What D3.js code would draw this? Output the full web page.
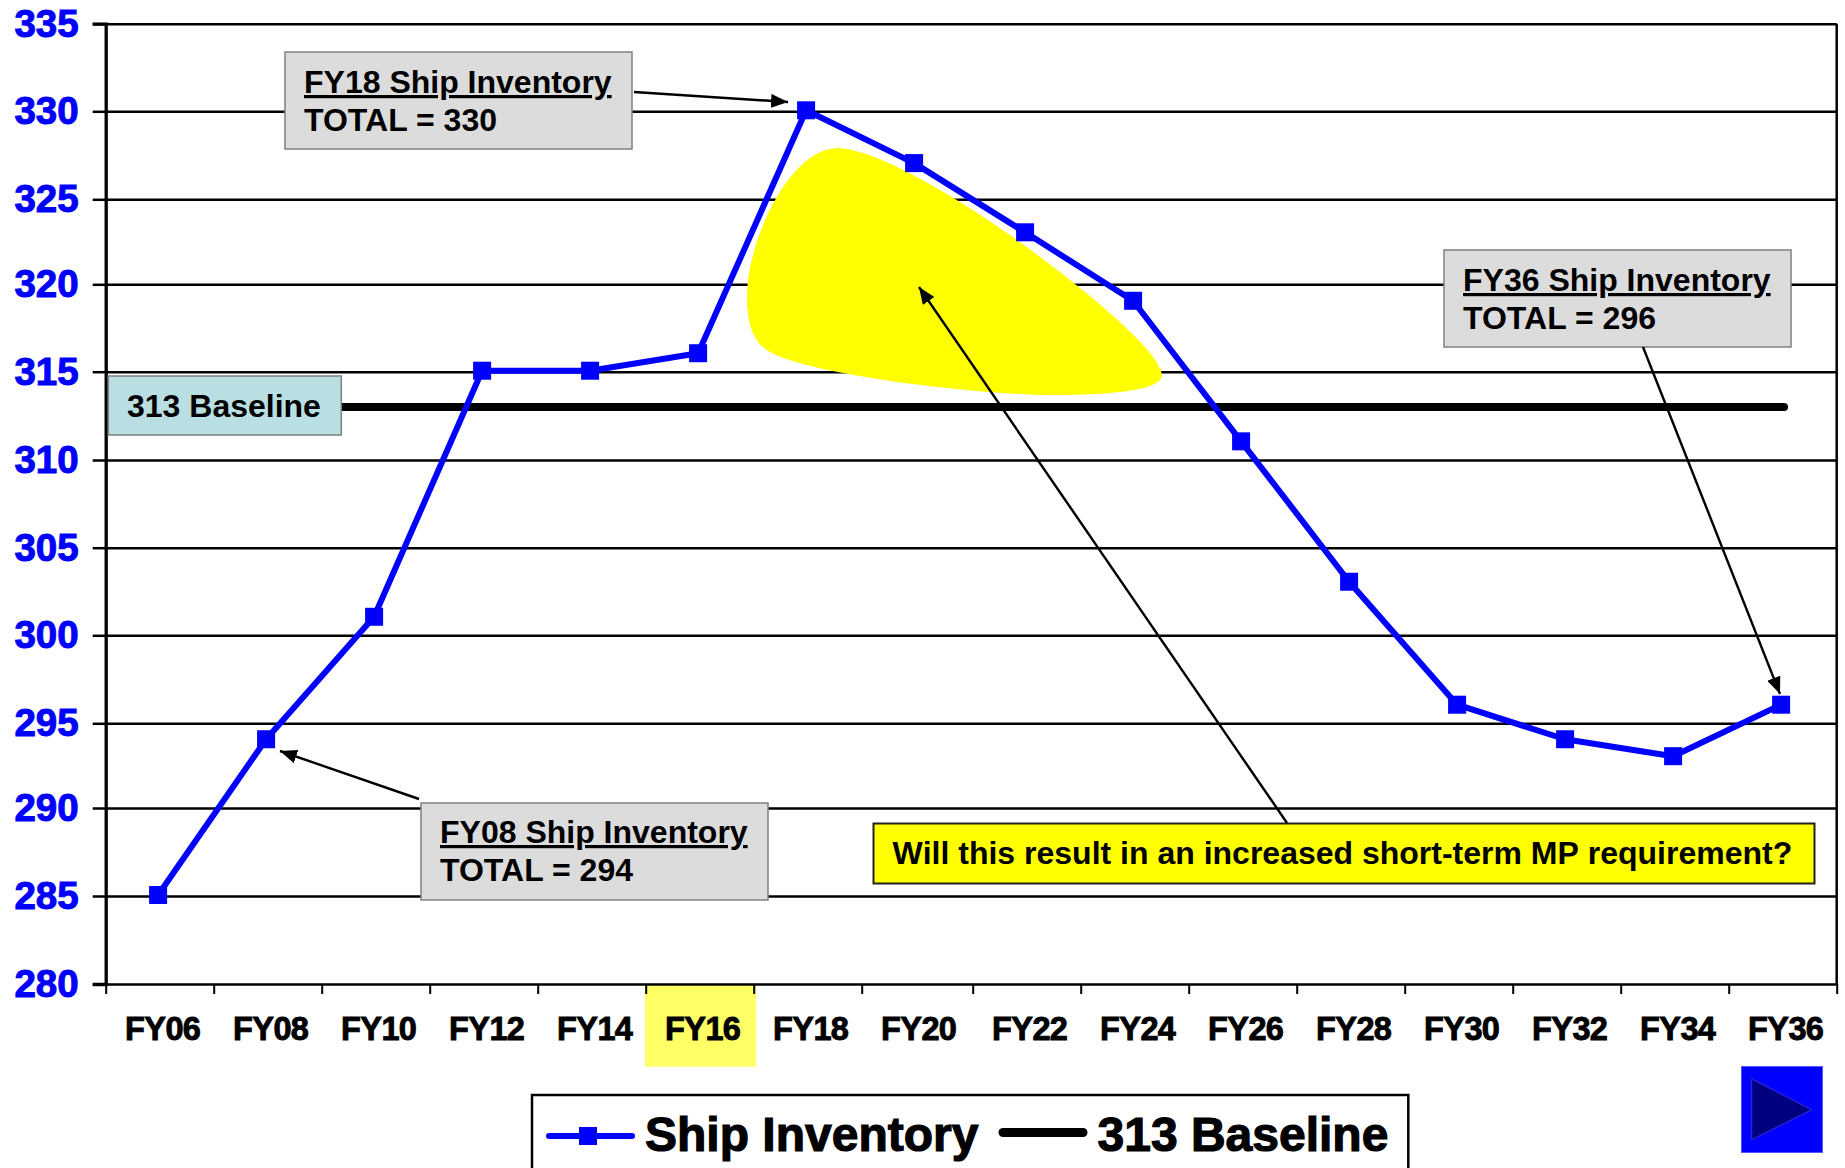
<!DOCTYPE html>
<html>
<head>
<meta charset="utf-8">
<script src="https://cdn.jsdelivr.net/npm/d3@7"></script>
<style>
html,body{margin:0;padding:0;background:#fff;overflow:hidden}
svg{display:block}
text{font-family:"Liberation Sans",Arial,sans-serif;font-weight:bold;font-kerning:none}
</style>
</head>
<body>
<svg id="c" width="1845" height="1168"></svg>
<script>
const categories = ["FY06","FY08","FY10","FY12","FY14","FY16","FY18","FY20","FY22","FY24","FY26","FY28","FY30","FY32","FY34","FY36"];
const shipInventory = [285,294,301,315,315,316,330,327,323,319,311,303,296,294,293,296];
const baselineValues = categories.map(() => 313);
const yTicks = [280,285,290,295,300,305,310,315,320,325,330,335];
const seriesNames = ["Ship Inventory","313 Baseline"];

const svg = d3.select("#c");
const L=105.7,R=1836.7,B=984;
// The source raster has uneven axis spacing, so the scales carry the measured stops.
const y = d3.scaleLinear().domain(yTicks).range([984,896,808,723.3,635.3,547.7,460,371.7,284.3,199.3,111.3,23.7]);
const xTick = d3.scaleLinear().domain([0,7,8,16]).range([105.7,861.7,972.7,1836.7]);
const xIdx = d3.scaleLinear().domain([0,7,8,15]).range([158.1,914.1,1025.1,1781.1]);
const xPts = c => xIdx(categories.indexOf(c));
const xLab = d3.scaleOrdinal().domain(categories).range(categories.map(c=>xPts(c)+4.1));
const seriesShift = -1;

svg.append("defs").append("marker").attr("id","ah").attr("markerUnits","userSpaceOnUse")
  .attr("viewBox","0 0 17 14").attr("markerWidth",17).attr("markerHeight",14)
  .attr("refX",17).attr("refY",7).attr("orient","auto")
  .append("path").attr("d","M0,0L17,7L0,14Z").attr("fill","#000");

// FY16 highlight
svg.append("rect").attr("x",645).attr("y",B).attr("width",111).attr("height",82.7).attr("fill","#ffff66");

// Gridlines + y ticks
const yg = svg.append("g").attr("transform",`translate(${L},0)`)
  .call(d3.axisLeft(y).tickValues(yTicks).tickSize(13).tickPadding(14));
yg.select(".domain").attr("stroke","#000").attr("stroke-width",3.3);
yg.selectAll("line").attr("stroke","#000").attr("stroke-width",2.5);
yg.selectAll("text").attr("fill","#0000ff").attr("stroke","#0000ff").attr("stroke-width",1)
  .style("font-size","38.5px");
svg.append("g").attr("transform",`translate(${L},0)`)
  .call(d3.axisRight(y).tickValues(yTicks).tickSize(R-L).tickFormat(""))
  .call(g=>g.select(".domain").remove())
  .selectAll("line").attr("stroke","#000").attr("stroke-width",2.5);
svg.append("line").attr("x1",R).attr("x2",R).attr("y1",y(335)).attr("y2",B).attr("stroke","#000").attr("stroke-width",2.5);

// x ticks
svg.append("g").attr("transform",`translate(0,${B})`)
  .call(d3.axisBottom(xTick).tickValues(d3.range(17)).tickSize(10).tickFormat(""))
  .call(g=>g.select(".domain").remove())
  .selectAll("line").attr("stroke","#000").attr("stroke-width",2);
// x labels
const xg = svg.append("g").attr("transform",`translate(0,1040)`)
  .call(d3.axisBottom(xLab).tickSize(0).tickPadding(0));
xg.select(".domain").remove();
xg.selectAll("text").attr("y",0).attr("dy",0).attr("fill","#000").attr("stroke","#000").attr("stroke-width",.9)
  .style("font-size","32.5px").style("font-kerning","normal").attr("letter-spacing","-0.6");

// Highlight blob
svg.append("path").attr("fill","#ffff00")
  .attr("d","M838,148C880,150 960,200 1010,235C1080,285 1160,350 1162,375C1162,392 1100,395 1053,395C980,395 810,375 770,352C750,342 747,315 747,297C747,240 790,148 838,148Z");

// Baseline
svg.append("path").datum(baselineValues)
  .attr("d",d3.line().x((d,i)=>i==categories.length-1?1784:xPts(categories[i])).y(d=>y(d)))
  .attr("fill","none").attr("stroke","#000").attr("stroke-width",8).attr("stroke-linecap","round");

// Series
const line = d3.line().x((d,i)=>xPts(categories[i])).y(d=>y(d)+seriesShift);
svg.append("path").datum(shipInventory).attr("d",line).attr("fill","none").attr("stroke","#0000ff").attr("stroke-width",6).attr("stroke-linejoin","round");
svg.selectAll("rect.m").data(shipInventory).join("rect").attr("class","m")
  .attr("x",(d,i)=>xPts(categories[i])-9).attr("y",d=>y(d)+seriesShift-9).attr("width",18).attr("height",18).attr("fill","#0000ff");

// Callouts
function box(x,y0,w,h,fill,stroke,sw=1.5){svg.append("rect").attr("x",x).attr("y",y0).attr("width",w).attr("height",h).attr("fill",fill).attr("stroke",stroke).attr("stroke-width",sw);}
function txt(x,y0,s,size,o={}){const t=svg.append("text").attr("x",x).attr("y",y0).text(s).style("font-size",size+"px").attr("fill","#000");if(o.u)t.attr("text-decoration","underline");if(o.ls)t.attr("letter-spacing",o.ls);if(o.sw)t.attr("stroke","#000").attr("stroke-width",o.sw);if(o.k)t.style("font-kerning","normal");return t;}
function arrow(x1,y1,x2,y2){svg.append("line").attr("x1",x1).attr("y1",y1).attr("x2",x2).attr("y2",y2).attr("stroke","#000").attr("stroke-width",2.4).attr("marker-end","url(#ah)");}

function callout(x,y0,a,b,dy=0){box(x,y0,347,97,"#dcdcdc","#808080");txt(x+19,y0+41+dy,a,32,{u:true});txt(x+19,y0+79+dy,b,32,{k:true});}
callout(285,52,"FY18 Ship Inventory","TOTAL = 330");
callout(1444,250,"FY36 Ship Inventory","TOTAL = 296");
callout(421,803,"FY08 Ship Inventory","TOTAL = 294",-1);

box(108.3,376,233,59,"#b9dfe3","#808080");
txt(127,417,"313 Baseline",32);

box(873.5,823.5,941,60,"#ffff00","#222",2);
txt(892.5,864,"Will this result in an increased short-term MP requirement?",32);

arrow(634,92,788,102);
arrow(419,799,280,751);
arrow(1643,347,1780,694);
arrow(1287,823,919,287);

// Legend
svg.append("rect").attr("x",532).attr("y",1095).attr("width",876.3).attr("height",100).attr("fill","#fff").attr("stroke","#000").attr("stroke-width",2.5);
svg.append("line").attr("x1",549).attr("x2",632).attr("y1",1136).attr("y2",1136).attr("stroke","#0000ff").attr("stroke-width",6).attr("stroke-linecap","round");
svg.append("rect").attr("x",579).attr("y",1127).attr("width",18).attr("height",18).attr("fill","#0000ff");
txt(645,1151,seriesNames[0],48,{sw:1.2});
svg.append("line").attr("x1",1003).attr("x2",1083).attr("y1",1132.5).attr("y2",1132.5).attr("stroke","#000").attr("stroke-width",9).attr("stroke-linecap","round");
txt(1097.5,1151,seriesNames[1],48,{sw:1.2});

// Nav button
svg.append("rect").attr("x",1741.5).attr("y",1066.5).attr("width",81).attr("height",86).attr("fill","#0000ff").attr("stroke","#5555ff").attr("stroke-width",1);
svg.append("path").attr("d","M1751.7,1079L1811.7,1109.7L1751.7,1139.7Z").attr("fill","#000080").attr("stroke","#3333cc").attr("stroke-width",1);
</script>
</body>
</html>
